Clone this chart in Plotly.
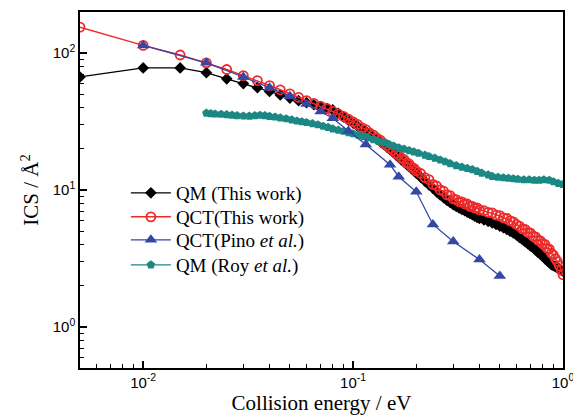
import plotly.graph_objects as go

# ---------------- data ----------------
E_GRID = [0.005, 0.010, 0.015, 0.020, 0.025, 0.030, 0.035, 0.040, 0.045, 0.050,
          0.055, 0.060, 0.065, 0.070, 0.075, 0.080, 0.085, 0.090, 0.095, 0.100,
          0.105, 0.110, 0.115, 0.120, 0.125, 0.130, 0.135, 0.140, 0.145, 0.150,
          0.155, 0.160, 0.165, 0.170, 0.175, 0.180, 0.185, 0.190, 0.195, 0.200,
          0.21, 0.22, 0.23, 0.24, 0.25, 0.26, 0.27, 0.28, 0.29, 0.30,
          0.31, 0.32, 0.33, 0.34, 0.35, 0.36, 0.37, 0.38, 0.39, 0.40,
          0.42, 0.44, 0.46, 0.48, 0.50, 0.52, 0.54, 0.56, 0.58, 0.60,
          0.62, 0.64, 0.66, 0.68, 0.70, 0.72, 0.74, 0.76, 0.78, 0.80,
          0.82, 0.84, 0.86, 0.88, 0.90, 0.92, 0.94, 0.96, 0.98, 1.00]

ICS_QM_THIS = [67, 78, 78, 72, 65, 60, 56, 52.5, 49.5, 47,
               45, 43.5, 42, 40.5, 39.5, 38.5, 36.3, 34.2, 32.4, 30.8,
               29.3, 28.0, 26.8, 25.7, 24.6, 23.5, 22.5, 21.5, 20.6, 19.7,
               18.9, 18.1, 17.3, 16.6, 16.0, 15.4, 14.8, 14.3, 13.8, 13.3,
               12.4, 11.6, 10.9, 10.3, 9.7, 9.2, 8.8, 8.4, 8.1, 7.8,
               7.6, 7.4, 7.2, 7.05, 6.9, 6.75, 6.6, 6.45, 6.3, 6.2,
               6.05, 5.9, 5.75, 5.6, 5.45, 5.3, 5.15, 5.0, 4.85, 4.7,
               4.5, 4.35, 4.2, 4.05, 3.9, 3.8, 3.65, 3.5, 3.4, 3.3,
               3.15, 3.05, 2.95, 2.85, 2.8, 2.75, 2.7, 2.65, 2.6, 2.55]

ICS_QCT_THIS = [155, 114, 97, 85, 76, 68.5, 63, 58, 54, 50.5,
                47.5, 45, 43, 41, 39.5, 37.5, 36, 34.5, 33, 31.5,
                30.2, 28.6, 27.6, 26.1, 25.2, 23.9, 23.1, 21.9, 21.2, 20.1,
                19.5, 18.5, 18.0, 17.1, 16.7, 15.8, 15.5, 14.7, 14.4, 13.8,
                13.2, 12.3, 11.9, 11.0, 10.7, 10.0, 9.8, 9.2, 9.1, 8.6,
                8.5, 8.2, 8.2, 7.9, 7.9, 7.6, 7.6, 7.35, 7.4, 7.15,
                7.05, 6.85, 6.8, 6.55, 6.5, 6.25, 6.2, 5.95, 5.85, 5.6,
                5.45, 5.2, 5.15, 4.9, 4.85, 4.6, 4.55, 4.3, 4.25, 4.05,
                4.0, 3.75, 3.7, 3.45, 3.35, 3.15, 3.0, 2.8, 2.6, 2.4]

E_PINO = [0.01, 0.02, 0.03, 0.04, 0.05, 0.06, 0.07, 0.08, 0.095, 0.115,
          0.15, 0.165, 0.2, 0.24, 0.3, 0.4, 0.5]
ICS_QCT_PINO = [114, 85, 67, 56, 48.5, 42.5, 37.5, 33.5, 27, 21.5,
                15.3, 12.5, 9.7, 5.6, 4.2, 3.1, 2.35]

E_ROY = [0.020, 0.021, 0.022, 0.0235, 0.025, 0.0265, 0.028, 0.030, 0.032, 0.034,
         0.036, 0.038, 0.040, 0.0425, 0.045, 0.048, 0.051, 0.054, 0.057, 0.060,
         0.064, 0.068, 0.072, 0.076, 0.080, 0.085, 0.090, 0.095, 0.100, 0.106,
         0.112, 0.118, 0.125, 0.132, 0.140, 0.148, 0.156, 0.165, 0.175, 0.185,
         0.195, 0.205, 0.22, 0.23, 0.245, 0.26, 0.275, 0.29, 0.31, 0.33,
         0.35, 0.37, 0.39, 0.41, 0.44, 0.46, 0.49, 0.52, 0.55, 0.58,
         0.61, 0.65, 0.69, 0.73, 0.77, 0.81, 0.86, 0.90, 0.95, 1.00]
ICS_QM_ROY = [36.5, 36.2, 36.0, 35.8, 35.6, 35.3, 35.0, 34.8, 34.7, 35.0,
              35.2, 35.0, 34.6, 34.2, 33.7, 33.2, 32.6, 32.0, 31.6, 31.2,
              30.6, 30.0, 29.3, 28.7, 28.0, 27.4, 26.9, 26.3, 25.8, 25.2,
              24.6, 24.0, 23.4, 22.8, 22.2, 21.6, 21.0, 20.4, 19.9, 19.4,
              19.0, 18.6, 18.0, 17.6, 17.1, 16.6, 16.1, 15.6, 15.1, 14.7,
              14.4, 14.1, 13.7, 13.3, 12.9, 12.6, 12.4, 12.3, 12.2, 12.1,
              12.0, 11.9, 11.9, 11.8, 11.8, 11.9, 11.8, 11.5, 11.2, 11.0]

X_TICKS = [0.01, 0.1, 1]
X_TICKTEXT = ["10<sup>-2</sup>", "10<sup>-1</sup>", "10<sup>0</sup>"]
X_MINOR = [0.006, 0.007, 0.008, 0.009, 0.02, 0.03, 0.04, 0.05, 0.06, 0.07, 0.08, 0.09,
           0.2, 0.3, 0.4, 0.5, 0.6, 0.7, 0.8, 0.9]
Y_TICKS = [1, 10, 100]
Y_TICKTEXT = ["10<sup>0</sup>", "10<sup>1</sup>", "10<sup>2</sup>"]
Y_MINOR = [0.6, 0.7, 0.8, 0.9, 2, 3, 4, 5, 6, 7, 8, 9, 20, 30, 40, 50, 60, 70, 80, 90]

BLACK = "#000000"
RED = "#ee2a2a"
BLUE = "#3446a6"
TEAL = "#1b8883"

SERIF = "Liberation Serif, Times New Roman, serif"
SANS = "Liberation Sans, Arial, sans-serif"

fig = go.Figure()
fig.add_trace(go.Scatter(
    x=E_GRID, y=ICS_QM_THIS, mode="lines+markers", name="QM (This work)",
    legend="legend",
    line=dict(color=BLACK, width=1.3),
    marker=dict(symbol="diamond", size=9, color=BLACK)))
fig.add_trace(go.Scatter(
    x=E_GRID, y=ICS_QCT_THIS, mode="lines+markers", name="QCT(This work)",
    legend="legend2",
    line=dict(color=RED, width=1.5),
    marker=dict(symbol="circle-open", size=9, color=RED,
                line=dict(color=RED, width=1.8))))
fig.add_trace(go.Scatter(
    x=E_ROY, y=ICS_QM_ROY, mode="lines+markers", name="QM (Roy <i>et al.</i>)",
    legend="legend4",
    line=dict(color=TEAL, width=1.3),
    marker=dict(symbol="pentagon", size=9, color=TEAL)))
fig.add_trace(go.Scatter(
    x=E_PINO, y=ICS_QCT_PINO, mode="lines+markers", name="QCT(Pino <i>et al.</i>)",
    legend="legend3",
    line=dict(color=BLUE, width=1.3),
    marker=dict(symbol="triangle-up", size=11, color=BLUE)))

LEG_FONT = dict(family=SERIF, size=19, color="black")


def leg(ypos):
    return dict(x=0.095, y=ypos, xanchor="left", yanchor="middle",
                bgcolor="rgba(0,0,0,0)", borderwidth=0,
                font=LEG_FONT, itemwidth=40, tracegroupgap=0)


fig.update_layout(
    width=573, height=419,
    margin=dict(l=80, r=10, t=12, b=51, autoexpand=False),
    paper_bgcolor="white", plot_bgcolor="white",
    showlegend=True,
    legend=leg(0.4916),
    legend2=leg(0.4242),
    legend3=leg(0.3596),
    legend4=leg(0.2893),
)
fig.update_xaxes(
    type="log", range=[-2.30103, 0], automargin=False,
    tickvals=X_TICKS, ticktext=X_TICKTEXT, ticklabeloverflow="allow",
    ticks="inside", ticklen=7, tickwidth=1.5, tickcolor="black",
    minor=dict(tickvals=X_MINOR, ticks="inside", ticklen=4, tickwidth=1.3, tickcolor="black", showgrid=False),
    showline=True, linecolor="black", linewidth=1.5, mirror=True,
    showgrid=False, zeroline=False,
    tickfont=dict(family=SANS, size=15, color="black"),
    title=dict(text="Collision energy / eV", font=dict(family=SERIF, size=21, color="black"), standoff=4),
)
fig.update_yaxes(
    type="log", range=[-0.30103, 2.30103], automargin=False,
    tickvals=Y_TICKS, ticktext=Y_TICKTEXT, ticklabeloverflow="allow",
    ticks="inside", ticklen=7, tickwidth=1.5, tickcolor="black",
    minor=dict(tickvals=Y_MINOR, ticks="inside", ticklen=4, tickwidth=1.3, tickcolor="black", showgrid=False),
    showline=True, linecolor="black", linewidth=1.5, mirror=True,
    showgrid=False, zeroline=False,
    tickfont=dict(family=SANS, size=15, color="black"),
    title=dict(text="ICS / Å<sup>2</sup>", font=dict(family=SERIF, size=21, color="black"), standoff=8),
)

fig.write_html("out.html")
